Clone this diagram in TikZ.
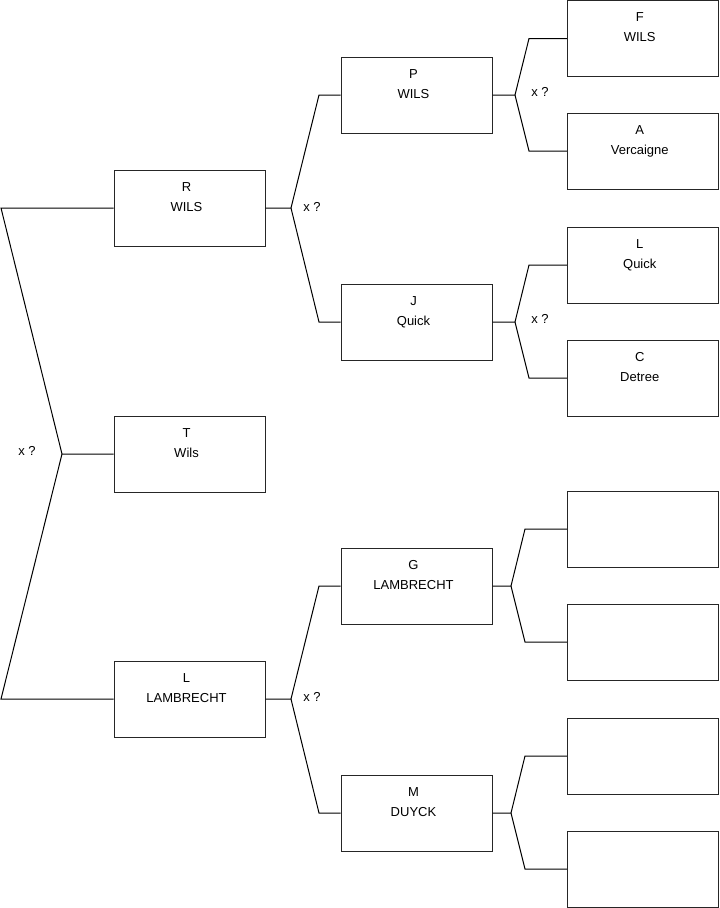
\documentclass[tikz,border=0pt]{standalone}
\usepackage{fontspec}
\setmainfont{Liberation Sans}
\begin{document}
\begin{tikzpicture}[x=0.75pt,y=-0.75pt,
  box/.style={draw=black!85, line width=0.75pt, minimum width=113.25pt, minimum height=57pt, inner sep=0pt},
  txt/.style={align=center, font=\fontsize{9.75}{15}\selectfont, inner sep=0pt},
  conn/.style={draw=black, line width=0.75pt},
  lab/.style={font=\fontsize{9.75}{12}\selectfont, inner sep=0pt}]
\useasboundingbox (0,0) rectangle (719,908);
% column 1
\node[box] (R) at (189.5,208) {};
\node[box] (T) at (189.5,454) {};
\node[box] (L) at (189.5,699) {};
% column 2
\node[box] (P) at (416.5,95) {};
\node[box] (J) at (416.5,322) {};
\node[box] (G) at (416.5,586) {};
\node[box] (M) at (416.5,813) {};
% column 3
\node[box] (F) at (642.75,38.5) {};
\node[box] (A) at (642.75,151) {};
\node[box] (Lq) at (642.75,265) {};
\node[box] (C) at (642.75,378) {};
\node[box] (E1) at (642.75,529) {};
\node[box] (E2) at (642.75,642) {};
\node[box] (E3) at (642.75,756) {};
\node[box] (E4) at (642.75,869) {};
% texts
\node[txt] (tR) at ([xshift=-2.25pt,yshift=-21pt]R.north) {\strut R\\\strut WILS};
\node[txt] (tT) at ([xshift=-2.25pt,yshift=-21pt]T.north) {\strut T\\\strut Wils};
\node[txt] (tL) at ([xshift=-2.25pt,yshift=-21pt]L.north) {\strut L\\\strut LAMBRECHT};
\node[txt] (tP) at ([xshift=-2.25pt,yshift=-21pt]P.north) {\strut P\\\strut WILS};
\node[txt] (tJ) at ([xshift=-2.25pt,yshift=-21pt]J.north) {\strut J\\\strut Quick};
\node[txt] (tG) at ([xshift=-2.25pt,yshift=-21pt]G.north) {\strut G\\\strut LAMBRECHT};
\node[txt] (tM) at ([xshift=-2.25pt,yshift=-21pt]M.north) {\strut M\\\strut DUYCK};
\node[txt] (tF) at ([xshift=-2.25pt,yshift=-20.25pt]F.north) {\strut F\\\strut WILS};
\node[txt] (tA) at ([xshift=-2.25pt,yshift=-21pt]A.north) {\strut A\\\strut Vercaigne};
\node[txt] (tLq) at ([xshift=-2.25pt,yshift=-21pt]Lq.north) {\strut L\\\strut Quick};
\node[txt] (tC) at ([xshift=-2.25pt,yshift=-21pt]C.north) {\strut C\\\strut Detree};
% left bracket
\coordinate (a0) at (1,208);
\coordinate (a1) at (62,454);
\coordinate (a2) at (1,699);
\draw[conn] (R.west) -- (a0) -- (a1) -- (T.west);
\draw[conn] (a1) -- (a2) -- (L.west);
\node[lab] (x0) at (27,451) {x ?};
% column 2 brackets
\coordinate (b0) at (291,208);
\draw[conn] (R.east) -- (b0) -- (319,95) -- (P.west);
\draw[conn] (b0) -- (319,322) -- (J.west);
\node[lab] (x1) at (312,207) {x ?};
\coordinate (b1) at (291,699);
\draw[conn] (L.east) -- (b1) -- (319,586) -- (G.west);
\draw[conn] (b1) -- (319,813) -- (M.west);
\node[lab] (x2) at (312,697) {x ?};
% column 3 brackets
\coordinate (c0) at (515,95);
\draw[conn] (P.east) -- (c0) -- (529,38.5) -- (F.west);
\draw[conn] (c0) -- (529,151) -- (A.west);
\node[lab] (x3) at (540,92) {x ?};
\coordinate (c1) at (515,322);
\draw[conn] (J.east) -- (c1) -- (529,265) -- (Lq.west);
\draw[conn] (c1) -- (529,378) -- (C.west);
\node[lab] (x4) at (540,319) {x ?};
\coordinate (c2) at (511,586);
\draw[conn] (G.east) -- (c2) -- (525,529) -- (E1.west);
\draw[conn] (c2) -- (525,642) -- (E2.west);
\coordinate (c3) at (511,813);
\draw[conn] (M.east) -- (c3) -- (525,756) -- (E3.west);
\draw[conn] (c3) -- (525,869) -- (E4.west);
\end{tikzpicture}
\end{document}
